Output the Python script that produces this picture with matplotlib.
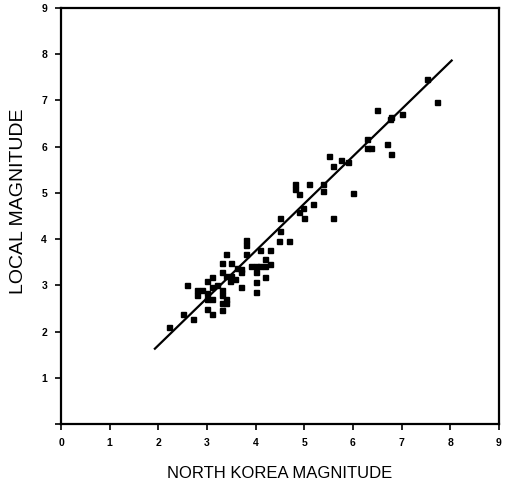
import matplotlib
matplotlib.use("Agg")
import matplotlib.pyplot as plt
import numpy as np

plt.rcParams['font.family'] = ['Liberation Sans', 'DejaVu Sans']

# North Korea magnitude (x) and local magnitude (y)
nk_mag = [7.53, 7.73, 6.50, 6.78, 6.76, 7.01, 6.29, 6.38, 6.29, 6.71, 6.79,
          5.50, 5.75, 5.90, 5.60, 6.01, 4.80, 4.80, 4.89, 5.09, 5.39, 5.39,
          5.18, 4.97, 4.90, 5.00, 5.60, 4.50, 4.50, 4.49, 4.68, 3.80, 3.80,
          3.80, 4.10, 4.29, 3.90, 4.00, 4.09, 4.20, 4.29, 4.20, 4.01, 4.20,
          4.01, 4.01, 3.40, 3.30, 3.49, 3.30, 3.61, 3.71, 3.71, 3.40, 3.50,
          3.57, 3.47, 3.71, 3.11, 3.01, 2.60, 2.80, 2.80, 2.90, 3.01, 3.11,
          3.20, 3.31, 3.31, 3.40, 3.40, 3.30, 3.01, 3.11, 3.01, 3.11, 3.30,
          2.51, 2.72, 2.21]
local_mag = [7.46, 6.96, 6.78, 6.64, 6.60, 6.70, 6.16, 5.96, 5.97, 6.05, 5.85,
             5.79, 5.71, 5.67, 5.57, 4.99, 5.19, 5.09, 4.97, 5.18, 5.19, 5.05,
             4.76, 4.67, 4.58, 4.45, 4.46, 4.46, 4.18, 3.96, 3.96, 3.97, 3.87,
             3.67, 3.76, 3.76, 3.42, 3.42, 3.42, 3.57, 3.46, 3.42, 3.28, 3.17,
             3.07, 2.86, 3.67, 3.48, 3.48, 3.29, 3.38, 3.29, 3.36, 3.20, 3.20,
             3.13, 3.10, 2.97, 3.18, 3.09, 3.00, 2.90, 2.79, 2.90, 2.84, 2.97,
             3.00, 2.90, 2.78, 2.71, 2.61, 2.61, 2.71, 2.71, 2.49, 2.37, 2.46,
             2.38, 2.28, 2.10]

# Regression line endpoints (x range and fitted y)
fit_x = [1.93, 8.03]
fit_y = [1.63, 7.86]

ticks = list(range(0, 10))

fig = plt.figure(figsize=(5.05, 4.88), dpi=100)
ax = fig.add_axes([0.1208, 0.131, 0.867, 0.853])

ax.plot(nk_mag, local_mag, linestyle='none', marker='s', markersize=3.6,
        color='black')
ax.plot(fit_x, fit_y, color='black', linewidth=1.6)

ax.set_xlim(0, 9)
ax.set_ylim(0, 9)
ax.set_xticks(ticks)
ax.set_yticks(ticks)
ax.set_xticklabels([str(t) for t in ticks], fontsize=7.5, fontweight='bold')
ax.set_yticklabels([str(t) if t > 0 else '' for t in ticks], fontsize=7.5,
                   fontweight='bold')
ax.tick_params(axis='x', direction='out', length=4, width=1.2, pad=6)
ax.tick_params(axis='y', direction='out', length=4, width=1.2, pad=6)
for s in ax.spines.values():
    s.set_linewidth(1.6)

ax.set_xlabel('NORTH KOREA MAGNITUDE', fontsize=12, labelpad=13)
ax.set_ylabel('LOCAL MAGNITUDE', fontsize=14)
ax.yaxis.set_label_coords(-0.078, 0.535)

fig.savefig('out.png', dpi=100)
